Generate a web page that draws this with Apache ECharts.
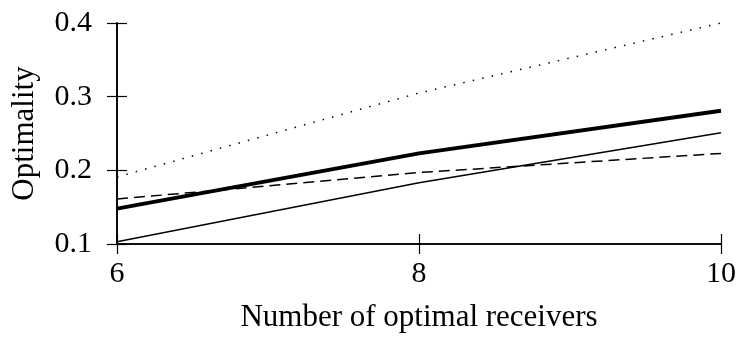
<!DOCTYPE html>
<html><head><meta charset="utf-8">
<script src="https://cdn.jsdelivr.net/npm/echarts@6/dist/echarts.min.js"></script>
<style>html,body{margin:0;padding:0;background:#fff}#c{width:739px;height:338px}</style>
</head><body><div id="c"></div>
<script>
var xValues = [6, 8, 10];
var dottedSeries = [0.191, 0.305, 0.400];
var thickSeries = [0.148, 0.223, 0.281];
var dashedSeries = [0.161, 0.197, 0.223];
var thinSeries = [0.103, 0.183, 0.251];
var yTicks = [0.1, 0.2, 0.3, 0.4];
var xTicks = [6, 8, 10];

function pairs(v){ return xValues.map(function(x,i){ return [x, v[i]]; }); }
var FONT = 'Liberation Serif';
var chart = echarts.init(document.getElementById('c'), null, {renderer:'canvas'});
function xAxis(inside, labels){
  return {type:'value', min:xTicks[0], max:xTicks[xTicks.length-1], interval:2,
    position:'bottom',
    axisLine:{show:true, lineStyle:{color:'#000', width:1.6}},
    axisTick:{show:true, inside:inside, length:10, lineStyle:{color:'#000', width:1.2}},
    axisLabel:{show:labels, color:'#000', fontFamily:FONT, fontSize:30, margin:15},
    splitLine:{show:false},
    name: labels ? 'Number of optimal receivers' : '', nameLocation:'middle', nameGap:58,
    nameTextStyle:{color:'#000', fontFamily:FONT, fontSize:31}};
}
function yAxis(inside, labels){
  return {type:'value', min:yTicks[0], max:yTicks[yTicks.length-1], interval:0.1,
    position:'left',
    axisLine:{show:true, lineStyle:{color:'#000', width:1.6}},
    axisTick:{show:true, inside:inside, length:10, lineStyle:{color:'#000', width:1.2}},
    axisLabel:{show:labels, color:'#000', fontFamily:FONT, fontSize:30, margin:25,
      formatter:function(v){ return v.toFixed(1); }},
    splitLine:{show:false},
    name: labels ? 'Optimality' : '', nameLocation:'middle', nameGap:77, nameRotate:90,
    nameTextStyle:{color:'#000', fontFamily:FONT, fontSize:31}};
}
function line(data, width, type){
  return {type:'line', data:pairs(data), symbol:'none', silent:true, animation:false,
    lineStyle:{color:'#000', width:width, type:type}};
}
chart.setOption({
  animation:false,
  grid:{left:117, right:17, top:23, bottom:89, containLabel:false},
  xAxis:[xAxis(false, true), xAxis(true, false)],
  yAxis:[yAxis(false, true), yAxis(true, false)],
  series:[
    line(dottedSeries, 1.5, [1.5, 8.2]),
    line(dashedSeries, 1.5, [11, 6]),
    line(thinSeries, 1.5, 'solid'),
    line(thickSeries, 4, 'solid')
  ]
});
</script></body></html>
